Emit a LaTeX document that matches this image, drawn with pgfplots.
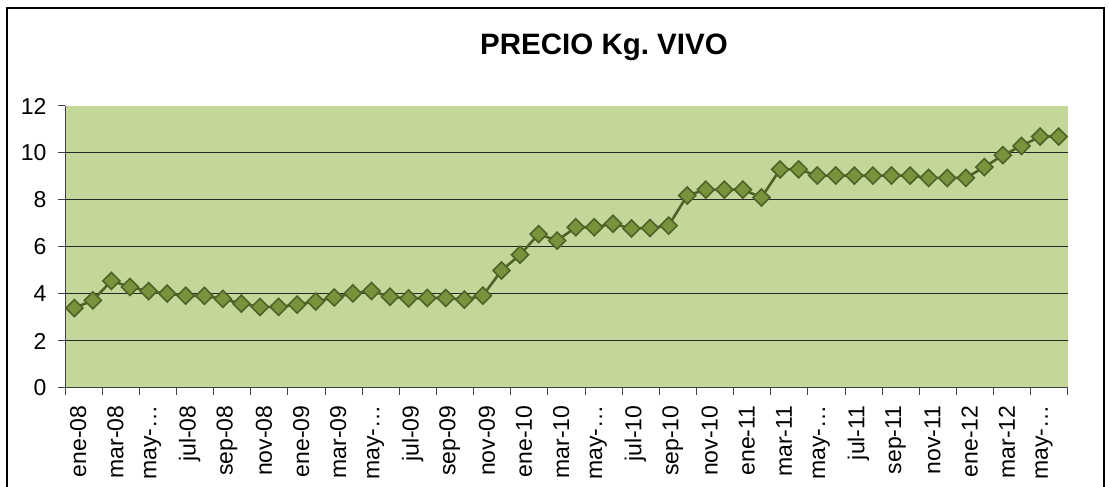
\documentclass[border=0pt]{standalone}
\usepackage{fontspec}
\setmainfont{Liberation Sans}
\usepackage{pgfplots}
\pgfplotsset{compat=1.18}
\definecolor{plotbg}{HTML}{C4D79B}
\definecolor{mkfill}{HTML}{77933C}
\definecolor{mkline}{HTML}{4F6228}
\begin{document}
\begin{tikzpicture}[x=1pt,y=1pt]
\useasboundingbox (0,0) rectangle (1109,487);
\fill[white] (0,0) rectangle (1109,487);
\draw[line width=1.8pt, black] (7,-10) -- (7,479) -- (1104,479) -- (1104,-10);
\node[anchor=base, font=\fontsize{29.5}{32}\selectfont\bfseries] at (604,432) {PRECIO Kg.\ VIVO};
\begin{axis}[
  at={(65pt,99pt)}, anchor=south west,
  scale only axis, width=1003pt, height=282pt,
  xmin=-0.5, xmax=53.5, ymin=0, ymax=12,
  axis background/.style={fill=plotbg},
  axis x line*=bottom, axis y line*=left,
  axis line style={line width=1pt, black!75},
  tick align=outside, major tick length=7pt, minor tick length=7pt,
  ytick={0,2,4,6,8,10},
  extra y ticks={12}, extra y tick style={grid=none},
  ymajorgrids, major grid style={line width=1pt, black!85},
  y tick style={line width=1pt, black!75},
  xtick={0,2,4,6,8,10,12,14,16,18,20,22,24,26,28,30,32,34,36,38,40,42,44,46,48,50,52},
  xticklabels={ene-08,mar-08,may-…,jul-08,sep-08,nov-08,ene-09,mar-09,may-…,jul-09,sep-09,nov-09,ene-10,mar-10,may-…,jul-10,sep-10,nov-10,ene-11,mar-11,may-…,jul-11,sep-11,nov-11,ene-12,mar-12,may-…},
  major x tick style={draw=none},
  minor xtick={-0.5,1.5,3.5,5.5,7.5,9.5,11.5,13.5,15.5,17.5,19.5,21.5,23.5,25.5,27.5,29.5,31.5,33.5,35.5,37.5,39.5,41.5,43.5,45.5,47.5,49.5,51.5,53.5},
  minor x tick style={line width=1pt, black!75},
  tick label style={font=\fontsize{23}{26}\selectfont},
  xticklabel style={xshift=4pt, yshift=-7pt, rotate=90, anchor=east},
  yticklabel style={xshift=-8pt},
  /pgf/number format/assume math mode=true,
]
\addplot[color=mkline, line width=2.6pt, mark=square*, mark size=6pt,
  mark options={rotate=45, fill=mkfill, draw=mkline, line width=1.6pt}] table {
x y
0 3.40
1 3.73
2 4.56
3 4.30
4 4.12
5 4.02
6 3.93
7 3.92
8 3.79
9 3.59
10 3.45
11 3.45
12 3.55
13 3.68
14 3.85
15 4.03
16 4.13
17 3.88
18 3.81
19 3.83
20 3.83
21 3.76
22 3.93
23 5.00
24 5.67
25 6.55
26 6.27
27 6.84
28 6.84
29 6.99
30 6.79
31 6.81
32 6.91
33 8.19
34 8.44
35 8.44
36 8.44
37 8.11
38 9.30
39 9.30
40 9.04
41 9.04
42 9.04
43 9.04
44 9.04
45 9.04
46 8.94
47 8.94
48 8.94
49 9.40
50 9.91
51 10.30
52 10.70
53 10.70
};
\end{axis}
\end{tikzpicture}
\end{document}
